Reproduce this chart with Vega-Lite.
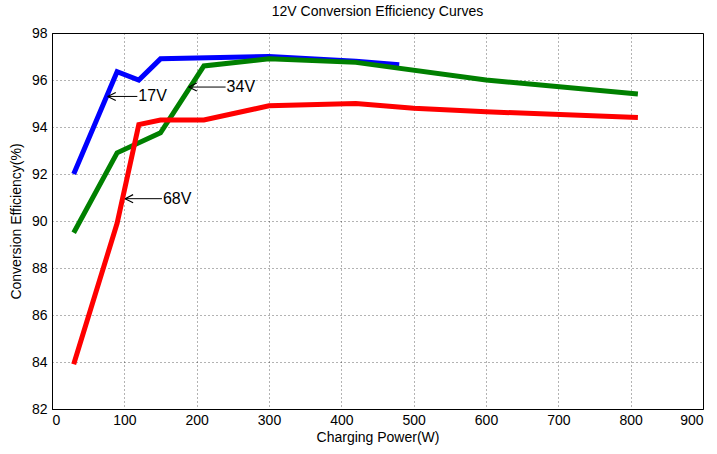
{
  "$schema": "https://vega.github.io/schema/vega-lite/v6.json",
  "width": 651,
  "height": 376,
  "autosize": "none",
  "padding": {"left": 52, "top": 33, "right": 14, "bottom": 45},
  "background": "white",
  "config": {
    "font": "Liberation Sans",
    "view": {"stroke": "black", "strokeWidth": 1},
    "axis": {
      "labelFont": "Liberation Sans",
      "titleFont": "Liberation Sans",
      "labelFontSize": 14,
      "titleFontSize": 14,
      "titleFontWeight": "normal",
      "labelColor": "black",
      "titleColor": "black",
      "domainColor": "black",
      "ticks": false,
      "gridColor": "black",
      "gridDash": [1, 3],
      "gridOpacity": 0.6,
      "gridWidth": 1
    }
  },
  "title": {
    "text": "12V Conversion Efficiency Curves",
    "font": "Liberation Sans",
    "fontSize": 14,
    "fontWeight": "normal",
    "color": "black",
    "offset": 7
  },
  "datasets": {
    "curves": [
      {"series": "17V", "P": 30, "E": 92.0},
      {"series": "17V", "P": 90, "E": 96.35},
      {"series": "17V", "P": 120, "E": 96.0},
      {"series": "17V", "P": 150, "E": 96.9},
      {"series": "17V", "P": 300, "E": 97.0},
      {"series": "17V", "P": 420, "E": 96.8},
      {"series": "17V", "P": 480, "E": 96.65},
      {"series": "34V", "P": 30, "E": 89.5},
      {"series": "34V", "P": 90, "E": 92.9},
      {"series": "34V", "P": 150, "E": 93.75},
      {"series": "34V", "P": 210, "E": 96.6},
      {"series": "34V", "P": 300, "E": 96.9},
      {"series": "34V", "P": 420, "E": 96.75},
      {"series": "34V", "P": 600, "E": 96.0},
      {"series": "34V", "P": 810, "E": 95.4},
      {"series": "68V", "P": 30, "E": 83.9},
      {"series": "68V", "P": 90, "E": 89.9},
      {"series": "68V", "P": 120, "E": 94.1},
      {"series": "68V", "P": 150, "E": 94.3},
      {"series": "68V", "P": 210, "E": 94.3},
      {"series": "68V", "P": 300, "E": 94.9},
      {"series": "68V", "P": 420, "E": 95.0},
      {"series": "68V", "P": 500, "E": 94.8},
      {"series": "68V", "P": 600, "E": 94.65},
      {"series": "68V", "P": 810, "E": 94.4}
    ],
    "arrows": [
      {"label": "17V", "tip": 77, "tail": 118, "E": 95.3},
      {"label": "34V", "tip": 189, "tail": 240, "E": 95.7},
      {"label": "68V", "tip": 101, "tail": 152, "E": 90.95}
    ]
  },
  "layer": [
    {
      "data": {"name": "curves"},
      "mark": {"type": "line", "strokeWidth": 5, "strokeJoin": "miter", "strokeCap": "butt", "clip": true},
      "encoding": {
        "x": {
          "field": "P", "type": "quantitative",
          "scale": {"domain": [0, 900], "nice": false},
          "axis": {"values": [0, 100, 200, 300, 400, 500, 600, 700, 800, 900], "title": "Charging Power(W)", "labelPadding": 4, "titlePadding": 3}
        },
        "y": {
          "field": "E", "type": "quantitative",
          "scale": {"domain": [82, 98], "nice": false, "zero": false},
          "axis": {"values": [82, 84, 86, 88, 90, 92, 94, 96, 98], "title": "Conversion Efficiency(%)", "labelPadding": 5, "titlePadding": 8}
        },
        "color": {
          "field": "series", "type": "nominal",
          "scale": {"domain": ["17V", "34V", "68V"], "range": ["#0000ff", "#008000", "#ff0000"]},
          "legend": null
        }
      }
    },
    {
      "data": {"name": "arrows"},
      "mark": {"type": "rule", "color": "black", "strokeWidth": 1},
      "encoding": {
        "x": {"field": "tip", "type": "quantitative"},
        "x2": {"field": "tail"},
        "y": {"field": "E", "type": "quantitative"}
      }
    },
    {
      "data": {"name": "arrows"},
      "mark": {"type": "point", "shape": "M0,0L1,-0.5M0,0L1,0.5", "filled": false, "color": "black", "strokeWidth": 1.2, "size": 260, "opacity": 1},
      "encoding": {
        "x": {"field": "tip", "type": "quantitative"},
        "y": {"field": "E", "type": "quantitative"}
      }
    },
    {
      "data": {"name": "arrows"},
      "mark": {"type": "text", "align": "left", "baseline": "middle", "dx": 1, "fontSize": 16, "font": "Liberation Sans", "color": "black"},
      "encoding": {
        "x": {"field": "tail", "type": "quantitative"},
        "y": {"field": "E", "type": "quantitative"},
        "text": {"field": "label"}
      }
    }
  ]
}
